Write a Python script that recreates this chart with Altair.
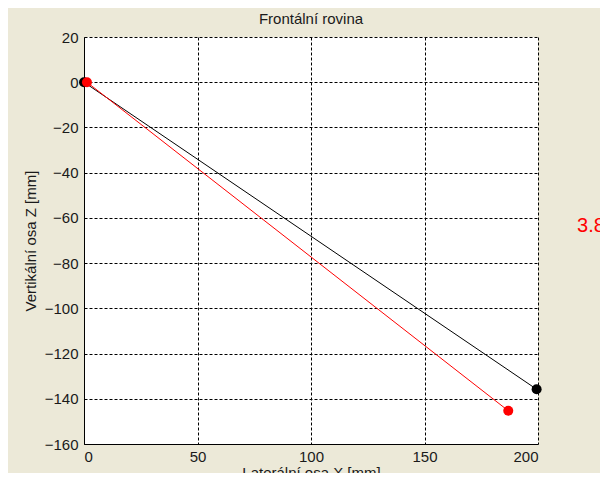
import altair as alt
import pandas as pd

# ---- data ----
x_ticks = [0, 50, 100, 150, 200]
z_ticks = [20, 0, -20, -40, -60, -80, -100, -120, -140, -160]

black_x = [0.0, 199.4]
black_z = [0.0, -135.8]

red_x = [1.3, 186.9]
red_z = [0.0, -145.3]

note_text = ["3.8"]
note_x = [217.2]
note_z = [-63.6]

black = pd.DataFrame({"x": black_x, "z": black_z})
red = pd.DataFrame({"x": red_x, "z": red_z})
note = pd.DataFrame({"x": note_x, "z": note_z, "t": note_text})

FONT = "Liberation Sans"
TXT = "#1a1a1a"

xs = alt.Scale(domain=[0, 200], nice=False, zero=False)
ys = alt.Scale(domain=[-160, 20], nice=False, zero=False)

x_axis = alt.Axis(values=x_ticks, title="Laterální osa X [mm]", grid=True,
                  tickSize=0, labelPadding=5, titlePadding=1)
y_axis = alt.Axis(values=z_ticks, title="Vertikální osa Z [mm]", grid=True,
                  tickSize=0, labelPadding=6, titlePadding=6)


def enc(ch):
    return ch.encode(
        x=alt.X("x:Q", scale=xs, axis=x_axis),
        y=alt.Y("z:Q", scale=ys, axis=y_axis),
    )


black_line = enc(alt.Chart(black).mark_line(color="black", strokeWidth=1))
black_pts = enc(alt.Chart(black).mark_circle(color="black", size=100, opacity=1))
red_line = enc(alt.Chart(red).mark_line(color="#ff0000", strokeWidth=1))
red_pts = enc(alt.Chart(red).mark_circle(color="#ff0000", size=100, opacity=1))
label = alt.Chart(note).mark_text(color="#ff0000", fontSize=20, font=FONT,
                                  align="left", baseline="middle", clip=False).encode(
    x=alt.X("x:Q", scale=xs, axis=x_axis),
    y=alt.Y("z:Q", scale=ys, axis=y_axis),
    text="t:N",
)

chart = alt.layer(black_line, black_pts, red_line, red_pts, label).properties(
    width=454,
    height=407,
    title=alt.TitleParams("Frontální rovina", font=FONT, fontSize=15,
                          fontWeight="normal", color=TXT, anchor="middle",
                          offset=3),
    autosize=alt.AutoSizeParams(type="none"),
    padding={"left": 76, "top": 29, "right": 62, "bottom": 29},
    background="#ECE9D8",
).configure_view(
    stroke=None, fill="white"
).configure_axis(
    labelFont=FONT, labelFontSize=15, labelColor=TXT,
    titleFont=FONT, titleFontSize=15, titleColor=TXT, titleFontWeight="normal",
    domainColor="black", domainWidth=1,
    gridColor="black", gridOpacity=1, gridWidth=1, gridDash=[3, 2],
)

chart.save("out.html", embed_options={"renderer": "svg", "actions": False})
